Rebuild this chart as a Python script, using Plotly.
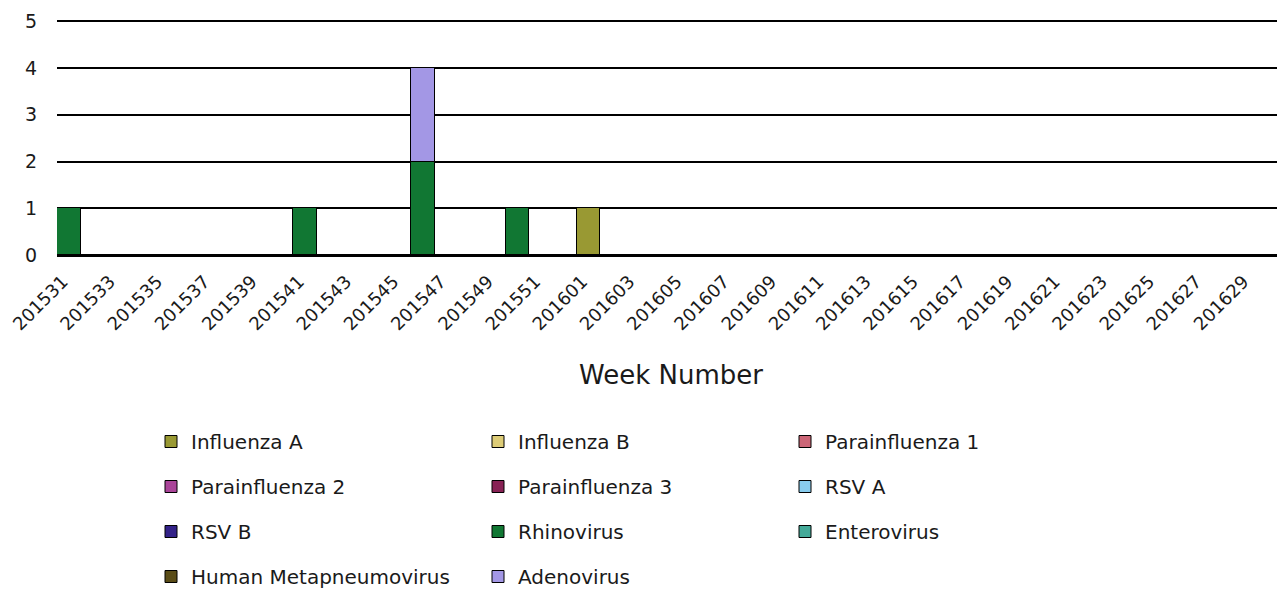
import plotly.graph_objects as go

weeks = ["201531", "201532", "201533", "201534", "201535", "201536", "201537", "201538",
         "201539", "201540", "201541", "201542", "201543", "201544", "201545", "201546",
         "201547", "201548", "201549", "201550", "201551", "201552",
         "201601", "201602", "201603", "201604", "201605", "201606", "201607", "201608",
         "201609", "201610", "201611", "201612", "201613", "201614", "201615", "201616",
         "201617", "201618", "201619", "201620", "201621", "201622", "201623", "201624",
         "201625", "201626", "201627", "201628", "201629", "201630"]

tick_labels = ["201531", "201533", "201535", "201537", "201539", "201541", "201543",
               "201545", "201547", "201549", "201551", "201601", "201603", "201605",
               "201607", "201609", "201611", "201613", "201615", "201617", "201619",
               "201621", "201623", "201625", "201627", "201629"]

Z = [0] * 52  # an all-zero series (no detections in any week)

influenza_a = [0]*22 + [1] + [0]*29
influenza_b = list(Z)
parainfluenza_1 = list(Z)
parainfluenza_2 = list(Z)
parainfluenza_3 = list(Z)
rsv_a = list(Z)
rsv_b = list(Z)
rhinovirus = [1, 0, 0, 0, 0, 0, 0, 0, 0, 0, 1, 0, 0, 0, 0, 2, 0, 0, 0, 1, 0, 0] + [0]*30
enterovirus = list(Z)
hmpv = list(Z)
adenovirus = [0]*15 + [2] + [0]*36

series = [
    ("Influenza A", influenza_a, "#999933", "legend"),
    ("Influenza B", influenza_b, "#DDCC77", "legend2"),
    ("Parainfluenza 1", parainfluenza_1, "#CC6677", "legend3"),
    ("Parainfluenza 2", parainfluenza_2, "#AA4499", "legend"),
    ("Parainfluenza 3", parainfluenza_3, "#882255", "legend2"),
    ("RSV A", rsv_a, "#88CCEE", "legend3"),
    ("RSV B", rsv_b, "#332288", "legend"),
    ("Rhinovirus", rhinovirus, "#117733", "legend2"),
    ("Enterovirus", enterovirus, "#44AA99", "legend3"),
    ("Human Metapneumovirus", hmpv, "#5A4C17", "legend"),
    ("Adenovirus", adenovirus, "#A397E5", "legend2"),
]

FONT = "DejaVu Sans"
W, H = 1277, 582  # page body adds an 8px margin

fig = go.Figure()
for name, vals, color, lg in series:
    fig.add_trace(go.Bar(
        x=weeks, y=vals, name=name, legend=lg, legendgroup=name,
        marker=dict(color=color, line=dict(color="black", width=1)),
    ))

legend_common = dict(
    orientation="v", xref="container", yref="container", yanchor="top", xanchor="left",
    font=dict(family=FONT, size=20, color="#1a1a1a"), tracegroupgap=16,
    bgcolor="rgba(0,0,0,0)", itemwidth=30, traceorder="grouped", maxheight=400,
)
ytop = 1 - 414 / H
fig.update_layout(
    width=W, height=H,
    margin=dict(l=49, r=0, t=12, b=335, autoexpand=False),
    paper_bgcolor="white", plot_bgcolor="white",
    barmode="stack", bargap=0,
    font=dict(family=FONT, size=18, color="#1a1a1a"),
    xaxis=dict(
        type="category", tickvals=tick_labels, ticktext=tick_labels, tickangle=-45,
        tickfont=dict(size=18), showline=True, linecolor="black", linewidth=2,
        showgrid=False, ticks="", automargin=False, ticklabelstandoff=7,
        ticklabelshift=-6,
        title=dict(text="Week Number", font=dict(size=26), standoff=32),
    ),
    yaxis=dict(
        range=[0, 5.03], tickvals=[0, 1, 2, 3, 4, 5], showgrid=True, gridcolor="black",
        gridwidth=1.5, zeroline=False, showline=False, tickfont=dict(size=19), ticks="",
        automargin=False, ticklabelstandoff=19,
    ),
    legend=dict(legend_common, x=143 / W, y=ytop),
    legend2=dict(legend_common, x=470 / W, y=ytop),
    legend3=dict(legend_common, x=777 / W, y=ytop),
)

fig.write_html("out.html")
